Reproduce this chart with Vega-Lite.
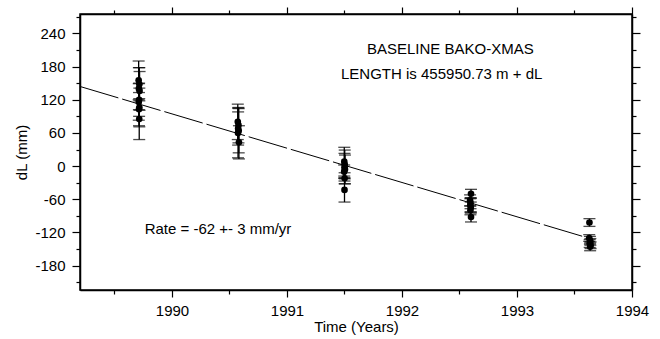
{
  "$schema": "https://vega.github.io/schema/vega-lite/v6.json",
  "width": 552,
  "height": 276,
  "autosize": "none",
  "padding": {"left": 80, "top": 14, "right": 28, "bottom": 49},
  "background": "white",
  "config": {
    "view": {"stroke": "black", "strokeWidth": 1.5},
    "axis": {
      "grid": false,
      "domainColor": "black",
      "domainWidth": 1.5,
      "tickColor": "black",
      "tickWidth": 1.2,
      "labelFont": "Liberation Sans",
      "labelFontSize": 15,
      "labelColor": "black",
      "titleFont": "Liberation Sans",
      "titleFontSize": 15,
      "titleFontWeight": "normal",
      "titleColor": "black"
    }
  },
  "datasets": {
    "obs": [
      {"t": 1989.710, "dl": 155, "lo": 120, "hi": 190},
      {"t": 1989.716, "dl": 148, "lo": 118, "hi": 178},
      {"t": 1989.712, "dl": 140, "lo": 102, "hi": 178},
      {"t": 1989.718, "dl": 136, "lo": 101, "hi": 171},
      {"t": 1989.714, "dl": 120, "lo": 90, "hi": 150},
      {"t": 1989.711, "dl": 116, "lo": 83, "hi": 149},
      {"t": 1989.716, "dl": 106, "lo": 71, "hi": 141},
      {"t": 1989.713, "dl": 103, "lo": 73, "hi": 133},
      {"t": 1989.715, "dl": 85, "lo": 48, "hi": 122},
      {"t": 1990.572, "dl": 80, "lo": 48, "hi": 112},
      {"t": 1990.578, "dl": 74, "lo": 42, "hi": 106},
      {"t": 1990.575, "dl": 68, "lo": 38, "hi": 98},
      {"t": 1990.580, "dl": 64, "lo": 24, "hi": 104},
      {"t": 1990.574, "dl": 60, "lo": 15, "hi": 105},
      {"t": 1990.582, "dl": 43, "lo": 13, "hi": 73},
      {"t": 1991.498, "dl": 8, "lo": -18, "hi": 34},
      {"t": 1991.502, "dl": 3, "lo": -23, "hi": 29},
      {"t": 1991.500, "dl": -2, "lo": -27, "hi": 23},
      {"t": 1991.504, "dl": -6, "lo": -32, "hi": 20},
      {"t": 1991.497, "dl": -10, "lo": -22, "hi": 2},
      {"t": 1991.501, "dl": -22, "lo": -32, "hi": -12},
      {"t": 1991.500, "dl": -43, "lo": -65, "hi": -21},
      {"t": 1992.600, "dl": -50, "lo": -58, "hi": -42},
      {"t": 1992.592, "dl": -62, "lo": -72, "hi": -52},
      {"t": 1992.596, "dl": -67, "lo": -77, "hi": -57},
      {"t": 1992.594, "dl": -71, "lo": -83, "hi": -59},
      {"t": 1992.598, "dl": -75, "lo": -85, "hi": -65},
      {"t": 1992.595, "dl": -80, "lo": -88, "hi": -72},
      {"t": 1992.600, "dl": -92, "lo": -101, "hi": -83},
      {"t": 1993.630, "dl": -102, "lo": -109, "hi": -95},
      {"t": 1993.628, "dl": -130, "lo": -136, "hi": -124},
      {"t": 1993.634, "dl": -134, "lo": -141, "hi": -127},
      {"t": 1993.638, "dl": -137, "lo": -143, "hi": -131},
      {"t": 1993.632, "dl": -140, "lo": -147, "hi": -133},
      {"t": 1993.640, "dl": -143, "lo": -149, "hi": -137},
      {"t": 1993.636, "dl": -146, "lo": -153, "hi": -139}
    ],
    "fit": [
      {"t": 1989.2, "dl": 144},
      {"t": 1993.63, "dl": -130.7}
    ],
    "notes": [
      {"t": 1992.42, "dl": 211, "label": "BASELINE BAKO-XMAS"},
      {"t": 1992.345, "dl": 166, "label": "LENGTH is 455950.73 m + dL"},
      {"t": 1990.40, "dl": -114, "label": "Rate = -62 +- 3 mm/yr"}
    ]
  },
  "resolve": {"axis": {"x": "independent", "y": "independent"}},
  "layer": [
    {
      "data": {"name": "obs"},
      "mark": {"type": "rule", "color": "black", "strokeWidth": 1.3},
      "encoding": {
        "x": {
          "field": "t", "type": "quantitative",
          "scale": {"domain": [1989.2, 1994], "nice": false, "zero": false},
          "axis": {
            "orient": "bottom",
            "title": "Time (Years)",
            "values": [1989.5, 1990, 1990.5, 1991, 1991.5, 1992, 1992.5, 1993, 1993.5, 1994],
            "labelExpr": "datum.value % 1 === 0 ? '' + datum.value : ''",
            "tickSize": {"condition": {"test": "datum.value % 1 === 0", "value": 7}, "value": 4},
            "labelPadding": 6,
            "titlePadding": 1,
            "labelFlush": false,
            "labelOverlap": false
          }
        },
        "y": {
          "field": "lo", "type": "quantitative",
          "scale": {"domain": [-224, 275], "nice": false, "zero": false},
          "axis": {
            "orient": "left",
            "title": "dL (mm)",
            "values": [-210, -180, -150, -120, -90, -60, -30, 0, 30, 60, 90, 120, 150, 180, 210, 240, 270],
            "labelExpr": "datum.value % 60 === 0 ? '' + datum.value : ''",
            "tickSize": {"condition": {"test": "datum.value % 60 === 0", "value": 8}, "value": 4},
            "labelPadding": 7,
            "titlePadding": 5,
            "labelFlush": false,
            "labelOverlap": false
          }
        },
        "y2": {"field": "hi"}
      }
    },
    {
      "data": {"name": "obs"},
      "mark": {"type": "tick", "orient": "horizontal", "color": "black", "size": 12, "thickness": 1.3},
      "encoding": {
        "x": {"field": "t", "type": "quantitative", "axis": null},
        "y": {"field": "lo", "type": "quantitative", "axis": null}
      }
    },
    {
      "data": {"name": "obs"},
      "mark": {"type": "tick", "orient": "horizontal", "color": "black", "size": 12, "thickness": 1.3},
      "encoding": {
        "x": {"field": "t", "type": "quantitative", "axis": null},
        "y": {"field": "hi", "type": "quantitative", "axis": null}
      }
    },
    {
      "data": {"name": "obs"},
      "mark": {"type": "circle", "color": "black", "opacity": 1, "size": 44},
      "encoding": {
        "x": {"field": "t", "type": "quantitative", "axis": null},
        "y": {"field": "dl", "type": "quantitative", "axis": null}
      }
    },
    {
      "data": {"name": "fit"},
      "mark": {"type": "line", "color": "black", "strokeWidth": 1, "strokeDash": [40, 4]},
      "encoding": {
        "x": {
          "field": "t", "type": "quantitative",
          "axis": {
            "orient": "top",
            "title": null,
            "labels": false,
            "values": [1989.5, 1990, 1990.5, 1991, 1991.5, 1992, 1992.5, 1993, 1993.5, 1994],
            "tickSize": {"condition": {"test": "datum.value % 1 === 0", "value": 7}, "value": 4}
          }
        },
        "y": {
          "field": "dl", "type": "quantitative",
          "axis": {
            "orient": "right",
            "title": null,
            "labels": false,
            "values": [-210, -180, -150, -120, -90, -60, -30, 0, 30, 60, 90, 120, 150, 180, 210, 240, 270],
            "tickSize": {"condition": {"test": "datum.value % 60 === 0", "value": 8}, "value": 4}
          }
        }
      }
    },
    {
      "data": {"name": "notes"},
      "mark": {"type": "text", "font": "Liberation Sans", "fontSize": 15, "color": "black", "align": "center", "baseline": "middle"},
      "encoding": {
        "x": {"field": "t", "type": "quantitative", "axis": null},
        "y": {"field": "dl", "type": "quantitative", "axis": null},
        "text": {"field": "label"}
      }
    }
  ]
}
